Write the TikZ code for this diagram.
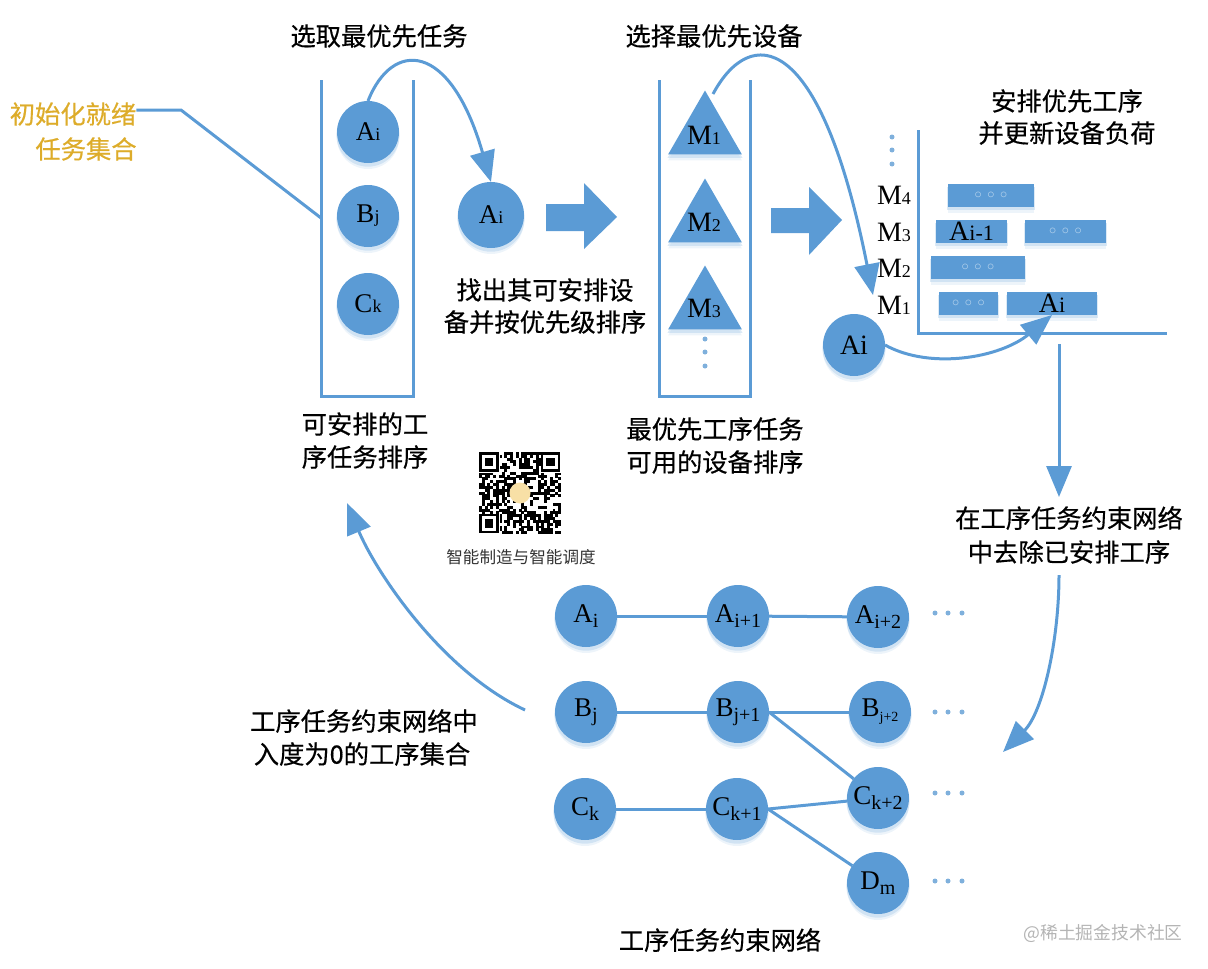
\documentclass[tikz,border=0pt]{standalone}
\usepackage{fontspec}
\setmainfont{Liberation Serif}
\newfontfamily\cjk[FakeBold=0.5]{Noto Sans CJK SC}
\newfontfamily\cjkthin{Noto Sans CJK SC}
\usetikzlibrary{arrows.meta,shapes.geometric,shadows}
\definecolor{boxblue}{HTML}{5B9BD5}
\definecolor{softblue}{HTML}{9CC3E6}
\definecolor{dotblue}{HTML}{7FB0DC}
\definecolor{ringblue}{HTML}{BBD6EE}
\definecolor{gold}{HTML}{DDAC2A}
\definecolor{capgrey}{HTML}{333333}
\definecolor{markgrey}{HTML}{B4B4B4}
\definecolor{qryellow}{HTML}{F8E0A6}
\newcommand{\lab}[2]{#1{\fontsize{18}{18}\selectfont #2}}
\newcommand{\labb}[2]{#1\raisebox{-5pt}{\fontsize{20}{20}\selectfont #2}}
\newcommand{\rings}{{\fontsize{15}{15}\selectfont\color{ringblue}$\circ$\hspace{5.5pt}$\circ$\hspace{5.5pt}$\circ$}}
\tikzset{
	softshade/.style={drop shadow={shadow xshift=0pt,shadow yshift=-3pt,shadow scale=1.02,fill=softblue,opacity=.35},
		drop shadow={shadow xshift=0pt,shadow yshift=-6pt,fill=softblue,opacity=.18}},
	task/.style={circle,fill=boxblue,minimum size=62pt,inner sep=0pt,outer sep=0pt,softshade,font=\fontsize{27}{27}\selectfont},
	machine/.style={regular polygon,regular polygon sides=3,fill=boxblue,minimum size=85pt,inner sep=0pt,outer sep=0pt,softshade},
	bar/.style={rectangle,fill=boxblue,minimum height=23pt,inner sep=0pt,outer sep=0pt,softshade,font=\fontsize{28}{28}\selectfont},
	dotmark/.style={circle,fill=dotblue,minimum size=5pt,inner sep=0pt},
	wall/.style={boxblue,line width=3pt},
	link/.style={boxblue,line width=3pt},
	flow/.style={boxblue,line width=3pt,-{Triangle[length=31pt,width=25pt]}},
	caption/.style={font=\cjk\fontsize{25.3}{25.3}\selectfont,inner sep=0pt},
	mlabel/.style={font=\fontsize{28}{28}\selectfont,inner sep=0pt},
}
\begin{document}
\begin{tikzpicture}[x=1pt,y=-1pt]
	 \useasboundingbox (0,0) rectangle (1208,969);
	 %Stack 1
	 \draw[wall] (321,80) -- (321,396) -- (413,396) -- (413,80);
	 \node[task] (a1) at (368,132) {\lab{A}{i}};
	 \node[task] (b1) at (368,216) {\lab{B}{j}};
	 \node[task] (c1) at (368,304) {\lab{C}{k}};
	 \node[task,minimum size=66pt] (a2) at (491,215) {\lab{A}{i}};
	 \draw[flow] (a1.north) .. controls (392,40) and (450,40) .. (a2.north);
	 
	 \node[caption,text=gold] (init1) at (73,114) {初始化就绪};
	 \node[caption,text=gold] (init2) at (86,149) {任务集合};
	 \coordinate (initbend) at (181,110);
	 \coordinate (stackin) at (321,218);
	 \draw[link] (init1.east |- initbend) -- (initbend) -- (stackin);
	 
	 \node[caption] (pick) at (379,36) {选取最优先任务};
	 \node[caption] (find1) at (545,290) {找出其可安排设};
	 \node[caption] (find2) at (545,322) {备并按优先级排序};
	 \node[caption] (sort1) at (365,424) {可安排的工};
	 \node[caption] (sort2) at (365,457) {序任务排序};
	 
	 \fill[boxblue] (546,204) -- (584,204) -- (584,183) -- (617,217) -- (584,249) -- (584,231) -- (546,231) -- cycle;
	 \fill[boxblue] (771,208) -- (809,208) -- (809,187) -- (842,220) -- (809,255) -- (809,233) -- (771,233) -- cycle;
	 
	 %Stack 2
	 \draw[wall] (659,80) -- (659,396) -- (750,396) -- (750,80);
	 \node[machine] (m1) at (705,133) {};
	 \node[machine] (m2) at (705,221) {};
	 \node[machine] (m3) at (705,308) {};
	 \node[mlabel] (m1t) at (704,135) {\lab{M}{1}};
	 \node[mlabel] (m2t) at (704,222) {\lab{M}{2}};
	 \node[mlabel] (m3t) at (704,308) {\lab{M}{3}};
	 \node[dotmark] (mdot1) at (705,339) {};
	 \node[dotmark] (mdot2) at (705,352) {};
	 \node[dotmark] (mdot3) at (705,366) {};
	 
	 \node[caption] (best) at (714,36) {选择最优先设备};
	 \node[caption] (avail1) at (715,429) {最优先工序任务};
	 \node[caption] (avail2) at (715,462) {可用的设备排序};
	 
	 %Schedule
	 \draw[wall] (918,130) -- (918,333) -- (1167,333);
	 \node[caption] (plan1) at (1067,101) {安排优先工序};
	 \node[caption] (plan2) at (1067,133) {并更新设备负荷};
	 \node[dotmark] (gdot1) at (892,137) {};
	 \node[dotmark] (gdot2) at (892,150) {};
	 \node[dotmark] (gdot3) at (892,164) {};
	 \node[mlabel] (g4) at (894,195) {\lab{M}{4}};
	 \node[mlabel] (g3) at (894,232) {\lab{M}{3}};
	 \node[mlabel] (g2) at (894,268) {\lab{M}{2}};
	 \node[mlabel] (g1) at (894,305) {\lab{M}{1}};
	 \node[bar,minimum width=86pt] (s1) at (991,195.5) {\rings};
	 \node[bar,minimum width=71pt] (s2) at (971.5,231.5) {A{\fontsize{22}{22}\selectfont i-1}};
	 \node[bar,minimum width=81pt] (s3) at (1065.5,231.5) {\rings};
	 \node[bar,minimum width=94pt] (s4) at (978,267.5) {\rings};
	 \node[bar,minimum width=59pt] (s5) at (968.5,303.5) {\rings};
	 \node[bar,minimum width=90pt] (s6) at (1052,303.5) {A{\fontsize{22}{22}\selectfont i}};
	 \node[task,font=\fontsize{28}{28}\selectfont] (a3) at (854,345) {Ai};
	 
	 \coordinate (m1out) at (713,94);
	 \coordinate (m1in) at (873,295);
	 \draw[flow] (m1out) .. controls (750,25) and (820,28) .. (m1in);
	 \draw[flow] (a3.east) .. controls (930,370) and (1000,358) .. (s6.south);
	 
	 \coordinate (downa) at (1059,344);
	 \coordinate (downb) at (1059,497);
	 \draw[flow] (downa) -- (downb);
	 \node[caption] (rem1) at (1069,518) {在工序任务约束网络};
	 \node[caption] (rem2) at (1069,552) {中去除已安排工序};
	 \coordinate (rema) at (1059,575);
	 \coordinate (remb) at (1003,752);
	 \draw[flow] (rema) .. controls (1059,640) and (1043,712) .. (remb);
	 
	 %QR code
	 \pgfmathsetseed{11}
	 \begin{scope}[shift={(479,452)}]
	 	\foreach \i in {0,...,28}
	 		\foreach \j in {0,...,28}{
	 			\pgfmathsetmacro{\cell}{rnd}
	 			\ifdim\cell pt<.52pt
	 				\fill[black] (\i*2.83,\j*2.83) rectangle ++(2.9,2.9);
	 			\fi
	 		}
	 	\foreach \fx/\fy in {0/0,61.5/0,0/61.5}{
	 		\fill[white] (\fx,\fy) rectangle ++(21,21);
	 		\fill[black] (\fx,\fy) rectangle ++(19.8,19.8);
	 		\fill[white] (\fx+2.8,\fy+2.8) rectangle ++(14.2,14.2);
	 		\fill[black] (\fx+5.6,\fy+5.6) rectangle ++(8.6,8.6);
	 	}
	 	\fill[qryellow] (41,41) circle (10.5);
	 \end{scope}
	 \node[font=\cjkthin\fontsize{16.6}{16.6}\selectfont,text=capgrey,inner sep=0pt] (qrname) at (521,557) {智能制造与智能调度};
	 
	 %Network
	 \node[task] (n11) at (586,616) {\labb{A}{i}};
	 \node[task] (n12) at (738,616) {\labb{A}{i+1}};
	 \node[task] (n13) at (878,617) {\labb{A}{i+2}};
	 \node[task] (n21) at (586,712) {\labb{B}{j}};
	 \node[task] (n22) at (738,712) {\labb{B}{j+1}};
	 \node[task] (n23) at (880,712) {B\raisebox{-5pt}{\fontsize{14}{14}\selectfont j+2}};
	 \node[task] (n31) at (585,809) {\labb{C}{k}};
	 \node[task] (n32) at (737,809) {\labb{C}{k+1}};
	 \node[task] (n33) at (878,798) {\labb{C}{k+2}};
	 \node[task] (n43) at (878,883) {\labb{D}{m}};
	 
	 \draw[link] (n11) -- (n12);
	 \draw[link] (n12) -- (n13);
	 \draw[link] (n21) -- (n22);
	 \draw[link] (n22) -- (n23);
	 \draw[link] (n31) -- (n32);
	 \draw[link] (n22.east) -- (n33);
	 \draw[link] (n32.east) -- (n33);
	 \draw[link] (n32.east) -- (n43);
	 
	 \foreach \y/\r in {613/1,712/2,793/3,881/4}{
	 	\node[dotmark] (d\r a) at (935,\y) {};
	 	\node[dotmark] (d\r b) at (948,\y) {};
	 	\node[dotmark] (d\r c) at (962,\y) {};
	 }
	 
	 \node[caption] (zero1) at (364,721) {工序任务约束网络中};
	 \node[caption] (zero2) at (362,754) {入度为0的工序集合};
	 \coordinate (backa) at (525,710);
	 \coordinate (backb) at (347,503);
	 \draw[flow] (backa) .. controls (440,670) and (375,570) .. (backb);
	 
	 \node[caption] (title) at (720,940) {工序任务约束网络};
	 \node[font=\cjkthin\fontsize{17.8}{17.8}\selectfont,text=markgrey,inner sep=0pt] (mark) at (1103,933) {@稀土掘金技术社区};
\end{tikzpicture}
\end{document}
